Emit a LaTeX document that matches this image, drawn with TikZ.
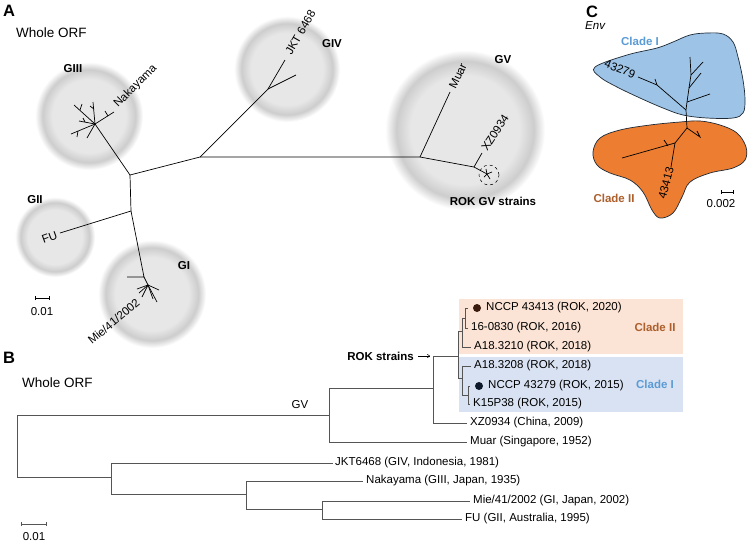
\documentclass[tikz,border=0pt]{standalone}
\usepackage{fontspec}
\setmainfont{Liberation Sans}
\usetikzlibrary{arrows.meta}
\definecolor{haloin}{HTML}{E7E7E8}
\definecolor{haloring}{HTML}{CDCDCE}
\definecolor{cladeIfill}{HTML}{9DC3E6}
\definecolor{cladeIIfill}{HTML}{ED7D31}
\definecolor{cladeItxt}{HTML}{5B9BD5}
\definecolor{cladeIItxt}{HTML}{AD5F2C}
\definecolor{boxII}{HTML}{FBE3D5}
\definecolor{boxI}{HTML}{D9E2F2}
\definecolor{dotII}{HTML}{3A1A0C}
\definecolor{dotI}{HTML}{0E1A2B}
\definecolor{treeB}{HTML}{555555}
\definecolor{blobline}{HTML}{1E2A36}
\pgfdeclareradialshading{halo}{\pgfpoint{0bp}{0bp}}{color(0bp)=(haloin); color(17bp)=(haloin); color(21.5bp)=(haloring); color(25bp)=(white); color(50bp)=(white)}
\begin{document}
\begin{tikzpicture}[x=1pt,y=-1pt,
  lab/.style={font=\fontsize{11.5}{12}\selectfont, inner sep=0pt},
  blab/.style={font=\bfseries\fontsize{11.5}{12}\selectfont, inner sep=0pt},
  panel/.style={font=\bfseries\fontsize{16.5}{17}\selectfont, inner sep=0pt},
  orf/.style={font=\fontsize{13.5}{14}\selectfont, inner sep=0pt},
  ta/.style={line width=0.7pt, black},
  tb/.style={line width=0.9pt, treeB},
  tc/.style={line width=0.7pt, black},
  blob/.style={line width=0.7pt, draw=blobline},
  sbar/.style={line width=0.6pt, {Bar[width=4pt]}-{Bar[width=4pt]}},
  dotn/.style={circle, inner sep=0pt, minimum size=8pt}
]
\useasboundingbox (0,0) rectangle (750,542);
\fill[white] (0,0) rectangle (750,542);

% ---------------- Panel A ----------------
\shade[shading=halo] (89,116) circle[radius=54pt];
\shade[shading=halo] (55,237) circle[radius=40pt];
\shade[shading=halo] (152,294) circle[radius=54pt];
\shade[shading=halo] (287,69) circle[radius=53pt];
\shade[shading=halo] (465,130) circle[radius=80pt];

\node[panel] (pA) at (9,11) {A};
\node[orf, anchor=west] (orfA) at (16,33) {Whole ORF};
\node[blab] (g3l) at (73,69) {GIII};
\node[blab] (g2l) at (35,200) {GII};
\node[blab] (g1l) at (184,266) {GI};
\node[blab] (g4l) at (332,44) {GIV};
\node[blab] (g5l) at (503,60) {GV};
\node[blab] (rokgv) at (493,201) {ROK GV strains};

\coordinate (n1) at (130,175);
\coordinate (n2) at (200,157);
\coordinate (n5) at (420,157);
\coordinate (n4) at (268,89);
\coordinate (t4a) at (285,60);
\coordinate (t4b) at (296,75);
\coordinate (tmuar) at (450,92);
\coordinate (nxz) at (474,167);
\coordinate (txz) at (482,153);
\coordinate (srok) at (487,174);
\coordinate (n3) at (131,211);
\coordinate (tfu) at (60,233);
\coordinate (n1g) at (144,277);
\coordinate (t1l) at (127,277);
\coordinate (s1) at (148,285);
\coordinate (s3) at (95,124);

\draw[ta] (s3) -- (n1) -- (n2) -- (n5) -- (nxz) -- (srok);
\draw[ta] (n2) -- (n4) -- (t4a);
\draw[ta] (n4) -- (t4b);
\draw[ta] (n5) -- (tmuar);
\draw[ta] (nxz) -- (txz);
\draw[ta] (n1) -- (n3) -- (tfu);
\draw[ta] (n3) -- (n1g) -- (t1l);
\draw[ta] (n1g) -- (s1);

% GIII star
\foreach \n/\x/\y in {a/114/112, b/74/105, c/93/102, d/71/134, e/87/138, f/79/121}
  {\coordinate (g3\n) at (\x,\y); \draw[ta] (s3) -- (g3\n);}
\foreach \n/\ax/\ay/\bx/\by in {a/108/116/105/111, b/80/110/82/104, c/94/109/90/106, d/78/131/77/137, f/85/122/83/118}
  {\coordinate (m3\n) at (\ax,\ay); \coordinate (k3\n) at (\bx,\by); \draw[ta] (m3\n) -- (k3\n);}
% GI star
\foreach \n/\x/\y in {a/137/289, b/139/293, c/142/297, d/153/299, e/157/302, f/159/290}
  {\coordinate (g1\n) at (\x,\y); \draw[ta] (s1) -- (g1\n);}
% ROK star
\foreach \n/\x/\y in {a/486/169, b/492/172, c/490/179, d/484/177}
  {\coordinate (r\n) at (\x,\y); \draw[ta] (srok) -- (r\n);}
\node[draw, dashed, circle, minimum size=20pt, inner sep=0pt, line width=0.5pt] (rokc) at (489,175) {};

\node[lab, rotate=45, anchor=west] (nak) at (116,106) {Nakayama};
\node[lab, rotate=60, anchor=west] (jkt) at (288,54) {JKT 6468};
\node[lab, rotate=64, anchor=west] (muar) at (452,88) {Muar};
\node[lab, rotate=57, anchor=west] (xz) at (484,150) {XZ0934};
\node[lab, rotate=20, anchor=east] (fu) at (57,235) {FU};
\node[lab, rotate=40, anchor=east] (mie) at (138,301) {Mie/41/2002};

\coordinate (sba1) at (35,298);
\coordinate (sba2) at (50,298);
\draw[sbar] (sba1) -- (sba2);
\node[lab] (sbaL) at (42,312) {0.01};

% ---------------- Panel C ----------------
\node[panel] (pC) at (592,12) {C};
\node[lab, font=\itshape\fontsize{11.5}{12}\selectfont, anchor=west] (env) at (585,26) {Env};

\draw[blob, fill=cladeIfill] plot[smooth cycle, tension=0.6] coordinates {
 (595,67) (627,55) (657,48) (673,42) (690,35) (707,33) (723,34) (733,42) (738,57)
 (743,80) (745,100) (743,113) (733,118) (707,118) (683,115) (663,108) (640,98)
 (617,87) (600,77)};
\draw[blob, fill=cladeIIfill] plot[smooth cycle, tension=0.6] coordinates {
 (600,138) (620,130) (650,125) (680,122) (700,121) (720,125) (737,133) (746,147)
 (745,160) (733,168) (710,173) (690,182) (682,197) (673,213) (660,218) (652,210)
 (643,192) (630,180) (610,173) (597,165) (593,152)};

\node[blab, text=cladeItxt] (clI) at (640,41) {Clade I};
\node[blab, text=cladeIItxt] (clII) at (614,198) {Clade II};

\coordinate (cu0) at (686,110);
\coordinate (cu0b) at (687,102);
\coordinate (cu1) at (689,88);
\coordinate (cu2) at (691,75);
\coordinate (ct1) at (690,57);
\coordinate (ct2) at (703,62);
\coordinate (ct3) at (710,94);
\coordinate (ct4) at (701,73);
\coordinate (cm1) at (657,85);
\coordinate (ck1) at (655,79);
\coordinate (ct5) at (638,77);
\coordinate (cl0) at (687,128);
\coordinate (cl1) at (675,143);
\coordinate (ct6) at (700,137);
\coordinate (ck6) at (697,131);
\coordinate (ct7) at (622,158);
\coordinate (ct8) at (671,167);
\coordinate (cm7) at (668,146);
\coordinate (ck7) at (664,140);
\draw[tc] (cl0) -- (cu0) -- (cu0b) -- (cu1) -- (cu2) -- (ct1);
\draw[tc] (cu2) -- (ct2);
\draw[tc] (cu1) -- (ct4);
\draw[tc] (cu0b) -- (ct3);
\draw[tc] (cu0) -- (cm1) -- (ct5);
\draw[tc] (cm1) -- (ck1);
\draw[tc] (cl0) -- (ct6) -- (ck6);
\draw[tc] (cl0) -- (cl1) -- (ct7);
\draw[tc] (cl1) -- (ct8);
\draw[tc] (cm7) -- (ck7);

\node[lab, rotate=-22] (c43279) at (620,69) {43279};
\node[lab, rotate=75] (c43413) at (666,183) {43413};

\coordinate (sbc1) at (721,192);
\coordinate (sbc2) at (734,192);
\draw[sbar] (sbc1) -- (sbc2);
\node[lab] (sbcL) at (721,204) {0.002};

% ---------------- Panel B ----------------
\node[panel] (pB) at (9,358) {B};
\node[orf, anchor=west] (orfB) at (22,383) {Whole ORF};

\fill[boxII] (459,299) rectangle (683,354);
\fill[boxI] (459,357) rectangle (683,412);
\node[blab, text=cladeIItxt] (bcII) at (655,327) {Clade II};
\node[blab, text=cladeItxt] (bcI) at (655,384) {Clade I};

\coordinate (bR) at (17,446);
\coordinate (bGV) at (329,415);
\coordinate (bU) at (433,388);
\coordinate (bROK) at (458,356);
\coordinate (bII) at (462,331);
\coordinate (bIIs) at (465,318);
\coordinate (bI) at (462,378);
\coordinate (bIs) at (468,395);
\coordinate (bLow) at (111,477);
\coordinate (bL2) at (246,494);
\coordinate (bL3) at (322,509);

\node[dotn, fill=dotII] (d43413) at (477,308) {};
\node[dotn, fill=dotI] (d43279) at (479,386) {};
\node[lab, anchor=west] (l43413) at (486,308) {NCCP 43413 (ROK, 2020)};
\node[lab, anchor=west] (l160830) at (471,328) {16-0830 (ROK, 2016)};
\node[lab, anchor=west] (l3210) at (474,347) {A18.3210 (ROK, 2018)};
\node[lab, anchor=west] (l3208) at (474,366) {A18.3208 (ROK, 2018)};
\node[lab, anchor=west] (l43279) at (488,386) {NCCP 43279 (ROK, 2015)};
\node[lab, anchor=west] (lk15) at (473,404) {K15P38 (ROK, 2015)};
\node[lab, anchor=west] (lxz) at (470,423) {XZ0934 (China, 2009)};
\node[lab, anchor=west] (lmuar) at (470,442) {Muar (Singapore, 1952)};
\node[lab, anchor=west] (ljkt) at (335,463) {JKT6468 (GIV, Indonesia, 1981)};
\node[lab, anchor=west] (lnak) at (366,481) {Nakayama (GIII, Japan, 1935)};
\node[lab, anchor=west] (lmie) at (473,501) {Mie/41/2002 (GI, Japan, 2002)};
\node[lab, anchor=west] (lfu) at (465,519) {FU (GII, Australia, 1995)};
\node[lab] (bgvl) at (300,405) {GV};

\draw[tb] (bR) |- (bGV);
\draw[tb] (bR) |- (bLow);
\draw[tb] (bGV) |- (bU);
\draw[tb, shorten >=3pt] (bGV) |- (lmuar.west);
\draw[tb] (bU) |- (bROK);
\draw[tb, shorten >=3pt] (bU) |- (lxz.west);
\draw[tb] (bROK) |- (bII);
\draw[tb] (bROK) |- (bI);
\draw[tb] (bII) |- (bIIs);
\draw[tb, shorten >=3pt] (bII) |- (l3210.west);
\draw[tb, shorten >=5pt] (bIIs) |- (d43413.west);
\draw[tb, shorten >=3pt] (bIIs) |- (l160830.west);
\draw[tb, shorten >=3pt] (bI) |- (l3208.west);
\draw[tb] (bI) |- (bIs);
\draw[tb, shorten >=5pt] (bIs) |- (d43279.west);
\draw[tb, shorten >=3pt] (bIs) |- (lk15.west);
\draw[tb, shorten >=2pt] (bLow) |- (ljkt.west);
\draw[tb] (bLow) |- (bL2);
\draw[tb, shorten >=3pt] (bL2) |- (lnak.west);
\draw[tb] (bL2) |- (bL3);
\draw[tb, shorten >=3pt] (bL3) |- (lmie.west);
\draw[tb, shorten >=3pt] (bL3) |- (lfu.west);

\node[blab, anchor=east] (rokstr) at (414,356) {ROK strains};
\coordinate (rokarr) at (430,356);
\draw[line width=0.5pt, -{To[length=3pt,width=4pt]}, shorten <=4pt] (rokstr.east) -- (rokarr);

\coordinate (sbb1) at (21,524);
\coordinate (sbb2) at (47,524);
\draw[sbar, treeB] (sbb1) -- (sbb2);
\node[lab] (sbbL) at (34,537) {0.01};
\end{tikzpicture}
\end{document}
